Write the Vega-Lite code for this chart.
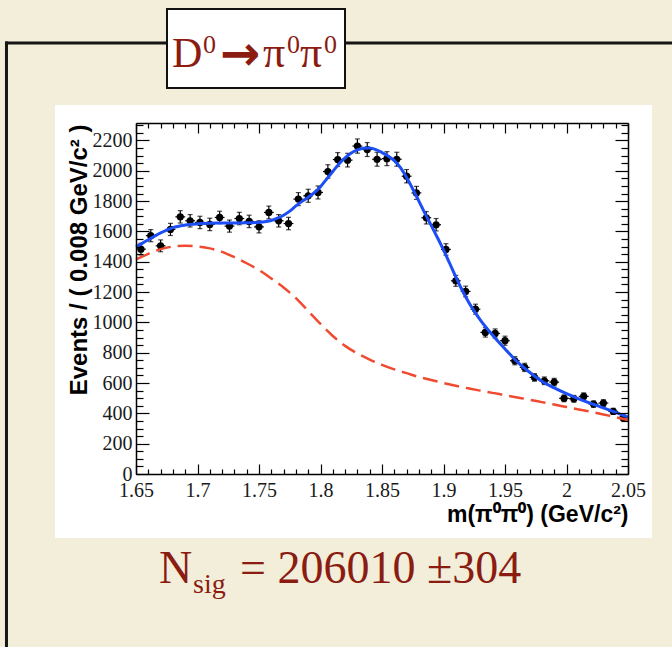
{
  "$schema": "https://vega.github.io/schema/vega-lite/v6.json",
  "width": 492,
  "height": 351,
  "autosize": {"type": "none"},
  "padding": {"left": 136, "top": 123, "right": 44, "bottom": 173},
  "background": "#f3eed9",
  "datasets": {
    "bins": [
      {"m":1.654,"v":1483,"e":39},{"m":1.662,"v":1572,"e":40},{"m":1.670,"v":1505,"e":39},{"m":1.678,"v":1613,"e":40},
      {"m":1.686,"v":1696,"e":41},{"m":1.694,"v":1670,"e":41},{"m":1.702,"v":1659,"e":41},{"m":1.710,"v":1646,"e":41},
      {"m":1.718,"v":1692,"e":41},{"m":1.726,"v":1635,"e":40},{"m":1.734,"v":1685,"e":41},{"m":1.742,"v":1666,"e":41},
      {"m":1.750,"v":1630,"e":40},{"m":1.758,"v":1725,"e":42},{"m":1.766,"v":1670,"e":41},{"m":1.774,"v":1652,"e":41},
      {"m":1.782,"v":1813,"e":43},{"m":1.790,"v":1835,"e":43},{"m":1.798,"v":1857,"e":43},{"m":1.806,"v":1995,"e":45},
      {"m":1.814,"v":2074,"e":46},{"m":1.822,"v":2070,"e":45},{"m":1.830,"v":2163,"e":47},{"m":1.838,"v":2140,"e":46},
      {"m":1.846,"v":2076,"e":46},{"m":1.854,"v":2080,"e":46},{"m":1.862,"v":2076,"e":46},{"m":1.870,"v":1964,"e":44},
      {"m":1.878,"v":1854,"e":43},{"m":1.886,"v":1690,"e":41},{"m":1.894,"v":1644,"e":41},{"m":1.902,"v":1481,"e":38},
      {"m":1.910,"v":1274,"e":36},{"m":1.918,"v":1204,"e":35},{"m":1.926,"v":1087,"e":33},{"m":1.934,"v":934,"e":31},
      {"m":1.942,"v":927,"e":30},{"m":1.950,"v":879,"e":30},{"m":1.958,"v":747,"e":27},{"m":1.966,"v":703,"e":27},
      {"m":1.974,"v":637,"e":25},{"m":1.982,"v":615,"e":25},{"m":1.990,"v":606,"e":25},{"m":1.998,"v":499,"e":22},
      {"m":2.006,"v":496,"e":22},{"m":2.014,"v":512,"e":23},{"m":2.022,"v":461,"e":21},{"m":2.030,"v":468,"e":22},
      {"m":2.038,"v":413,"e":20},{"m":2.046,"v":371,"e":19}
    ],
    "fit": [
      {"m":1.65,"v":1498},{"m":1.655,"v":1521},{"m":1.66,"v":1545},{"m":1.665,"v":1568},{"m":1.67,"v":1590},{"m":1.675,"v":1609},
      {"m":1.68,"v":1625},{"m":1.69,"v":1642},{"m":1.7,"v":1650},{"m":1.71,"v":1654},{"m":1.72,"v":1655},{"m":1.73,"v":1656},
      {"m":1.74,"v":1657},{"m":1.75,"v":1660},{"m":1.76,"v":1672},{"m":1.765,"v":1687},{"m":1.77,"v":1707},{"m":1.775,"v":1734},
      {"m":1.78,"v":1768},{"m":1.785,"v":1798},{"m":1.79,"v":1825},{"m":1.795,"v":1856},{"m":1.8,"v":1895},{"m":1.805,"v":1945},
      {"m":1.81,"v":1995},{"m":1.815,"v":2045},{"m":1.82,"v":2085},{"m":1.825,"v":2117},{"m":1.83,"v":2138},{"m":1.835,"v":2149},
      {"m":1.84,"v":2150},{"m":1.845,"v":2140},{"m":1.85,"v":2120},{"m":1.855,"v":2097},{"m":1.86,"v":2067},{"m":1.865,"v":2020},
      {"m":1.87,"v":1955},{"m":1.875,"v":1880},{"m":1.88,"v":1800},{"m":1.885,"v":1717},{"m":1.89,"v":1640},{"m":1.895,"v":1560},
      {"m":1.9,"v":1478},{"m":1.905,"v":1390},{"m":1.91,"v":1300},{"m":1.915,"v":1215},{"m":1.92,"v":1140},{"m":1.925,"v":1074},
      {"m":1.93,"v":1015},{"m":1.935,"v":963},{"m":1.94,"v":915},{"m":1.945,"v":869},{"m":1.95,"v":825},{"m":1.955,"v":782},
      {"m":1.96,"v":740},{"m":1.965,"v":704},{"m":1.97,"v":671},{"m":1.975,"v":640},{"m":1.98,"v":612},{"m":1.99,"v":568},
      {"m":2.0,"v":530},{"m":2.01,"v":496},{"m":2.02,"v":465},{"m":2.03,"v":436},{"m":2.04,"v":406},{"m":2.05,"v":375}
    ],
    "bkg": [
      {"m":1.65,"v":1415},{"m":1.66,"v":1452},{"m":1.67,"v":1483},{"m":1.68,"v":1500},{"m":1.69,"v":1505},{"m":1.7,"v":1500},
      {"m":1.71,"v":1488},{"m":1.72,"v":1465},{"m":1.73,"v":1430},{"m":1.74,"v":1390},{"m":1.75,"v":1345},{"m":1.76,"v":1290},
      {"m":1.77,"v":1230},{"m":1.78,"v":1160},{"m":1.79,"v":1075},{"m":1.8,"v":990},{"m":1.81,"v":910},{"m":1.82,"v":845},
      {"m":1.83,"v":795},{"m":1.84,"v":755},{"m":1.85,"v":720},{"m":1.86,"v":690},{"m":1.87,"v":665},{"m":1.88,"v":640},
      {"m":1.89,"v":620},{"m":1.9,"v":600},{"m":1.91,"v":582},{"m":1.92,"v":565},{"m":1.93,"v":550},{"m":1.94,"v":535},
      {"m":1.95,"v":520},{"m":1.96,"v":505},{"m":1.97,"v":490},{"m":1.98,"v":474},{"m":1.99,"v":458},{"m":2.0,"v":442},
      {"m":2.01,"v":426},{"m":2.02,"v":410},{"m":2.03,"v":393},{"m":2.04,"v":375},{"m":2.05,"v":356}
    ]
  },
  "layer": [
    {
      "data": {"values": [{}]},
      "mark": {"type": "rect", "color": "#ffffff"},
      "encoding": {
        "x": {"datum": 1.58415, "type": "quantitative", "scale": {"domain": [1.65, 2.05], "nice": false, "zero": false}, "axis": null},
        "x2": {"datum": 2.06951},
        "y": {"datum": 2433.7, "type": "quantitative", "scale": {"domain": [0, 2315], "nice": false, "zero": false}, "axis": null},
        "y2": {"datum": -422.1}
      }
    },
    {
      "data": {"values": [{}]},
      "mark": {"type": "rule", "color": "#161616", "strokeWidth": 3},
      "encoding": {
        "x": {"datum": 1.5435, "type": "quantitative", "scale": {"domain": [1.65, 2.05], "nice": false, "zero": false}, "axis": null},
        "x2": {"datum": 2.1},
        "y": {"datum": 2842.6, "type": "quantitative", "scale": {"domain": [0, 2315], "nice": false, "zero": false}, "axis": null}
      }
    },
    {
      "data": {"values": [{}]},
      "mark": {"type": "rule", "color": "#161616", "strokeWidth": 3},
      "encoding": {
        "x": {"datum": 1.5447, "type": "quantitative", "scale": {"domain": [1.65, 2.05], "nice": false, "zero": false}, "axis": null},
        "y": {"datum": 2852, "type": "quantitative", "scale": {"domain": [0, 2315], "nice": false, "zero": false}, "axis": null},
        "y2": {"datum": -1200}
      }
    },
    {
      "data": {"values": [{}]},
      "mark": {"type": "rect", "fill": "#ffffff", "stroke": "#111111", "strokeWidth": 2},
      "encoding": {
        "x": {"datum": 1.6752, "type": "quantitative", "scale": {"domain": [1.65, 2.05], "nice": false, "zero": false}, "axis": null},
        "x2": {"datum": 1.81992},
        "y": {"datum": 3066.9, "type": "quantitative", "scale": {"domain": [0, 2315], "nice": false, "zero": false}, "axis": null},
        "y2": {"datum": 2545.8}
      }
    },
    {
      "data": {"values": [{}]},
      "mark": {"type": "text", "text": "D", "font": "Liberation Serif", "fontSize": 42, "color": "#8a1c12", "align": "left", "baseline": "alphabetic"},
      "encoding": {
        "x": {"datum": 1.67927, "type": "quantitative", "scale": {"domain": [1.65, 2.05], "nice": false, "zero": false}, "axis": null},
        "y": {"datum": 2684, "type": "quantitative", "scale": {"domain": [0, 2315], "nice": false, "zero": false}, "axis": null}
      }
    },
    {
      "data": {"values": [{}]},
      "mark": {"type": "text", "text": "0", "font": "Liberation Serif", "fontSize": 26, "color": "#8a1c12", "align": "left", "baseline": "alphabetic"},
      "encoding": {
        "x": {"datum": 1.70447, "type": "quantitative", "scale": {"domain": [1.65, 2.05], "nice": false, "zero": false}, "axis": null},
        "y": {"datum": 2777, "type": "quantitative", "scale": {"domain": [0, 2315], "nice": false, "zero": false}, "axis": null}
      }
    },
    {
      "data": {"values": [{}]},
      "mark": {"type": "text", "text": "→", "font": "DejaVu Sans", "fontSize": 48, "fontWeight": "bold", "color": "#8a1c12", "align": "center", "baseline": "alphabetic"},
      "encoding": {
        "x": {"datum": 1.73455, "type": "quantitative", "scale": {"domain": [1.65, 2.05], "nice": false, "zero": false}, "axis": null},
        "y": {"datum": 2664, "type": "quantitative", "scale": {"domain": [0, 2315], "nice": false, "zero": false}, "axis": null}
      }
    },
    {
      "data": {"values": [{}]},
      "mark": {"type": "text", "text": "π", "font": "Liberation Serif", "fontSize": 44, "color": "#8a1c12", "align": "left", "baseline": "alphabetic"},
      "encoding": {
        "x": {"datum": 1.75325, "type": "quantitative", "scale": {"domain": [1.65, 2.05], "nice": false, "zero": false}, "axis": null},
        "y": {"datum": 2684, "type": "quantitative", "scale": {"domain": [0, 2315], "nice": false, "zero": false}, "axis": null}
      }
    },
    {
      "data": {"values": [{}]},
      "mark": {"type": "text", "text": "0", "font": "Liberation Serif", "fontSize": 26, "color": "#8a1c12", "align": "left", "baseline": "alphabetic"},
      "encoding": {
        "x": {"datum": 1.77276, "type": "quantitative", "scale": {"domain": [1.65, 2.05], "nice": false, "zero": false}, "axis": null},
        "y": {"datum": 2777, "type": "quantitative", "scale": {"domain": [0, 2315], "nice": false, "zero": false}, "axis": null}
      }
    },
    {
      "data": {"values": [{}]},
      "mark": {"type": "text", "text": "π", "font": "Liberation Serif", "fontSize": 44, "color": "#8a1c12", "align": "left", "baseline": "alphabetic"},
      "encoding": {
        "x": {"datum": 1.78333, "type": "quantitative", "scale": {"domain": [1.65, 2.05], "nice": false, "zero": false}, "axis": null},
        "y": {"datum": 2684, "type": "quantitative", "scale": {"domain": [0, 2315], "nice": false, "zero": false}, "axis": null}
      }
    },
    {
      "data": {"values": [{}]},
      "mark": {"type": "text", "text": "0", "font": "Liberation Serif", "fontSize": 26, "color": "#8a1c12", "align": "left", "baseline": "alphabetic"},
      "encoding": {
        "x": {"datum": 1.80285, "type": "quantitative", "scale": {"domain": [1.65, 2.05], "nice": false, "zero": false}, "axis": null},
        "y": {"datum": 2777, "type": "quantitative", "scale": {"domain": [0, 2315], "nice": false, "zero": false}, "axis": null}
      }
    },
    {
      "data": {"values": [{}]},
      "mark": {"type": "text", "text": "N", "font": "Liberation Serif", "fontSize": 46, "color": "#8a1c12", "align": "left", "baseline": "alphabetic"},
      "encoding": {
        "x": {"datum": 1.6687, "type": "quantitative", "scale": {"domain": [1.65, 2.05], "nice": false, "zero": false}, "axis": null},
        "y": {"datum": -719, "type": "quantitative", "scale": {"domain": [0, 2315], "nice": false, "zero": false}, "axis": null}
      }
    },
    {
      "data": {"values": [{}]},
      "mark": {"type": "text", "text": "sig", "font": "Liberation Serif", "fontSize": 28, "color": "#8a1c12", "align": "left", "baseline": "alphabetic"},
      "encoding": {
        "x": {"datum": 1.69634, "type": "quantitative", "scale": {"domain": [1.65, 2.05], "nice": false, "zero": false}, "axis": null},
        "y": {"datum": -785, "type": "quantitative", "scale": {"domain": [0, 2315], "nice": false, "zero": false}, "axis": null}
      }
    },
    {
      "data": {"values": [{}]},
      "mark": {"type": "text", "text": "= 206010 ±304", "font": "Liberation Serif", "fontSize": 46, "color": "#8a1c12", "align": "left", "baseline": "alphabetic"},
      "encoding": {
        "x": {"datum": 1.73455, "type": "quantitative", "scale": {"domain": [1.65, 2.05], "nice": false, "zero": false}, "axis": null},
        "y": {"datum": -719, "type": "quantitative", "scale": {"domain": [0, 2315], "nice": false, "zero": false}, "axis": null}
      }
    },
    {
      "data": {"name": "bins"},
      "mark": {"type": "errorbar", "ticks": {"size": 5}, "thickness": 1.2, "color": "#000000"},
      "encoding": {
        "x": {"field": "m", "type": "quantitative", "scale": {"domain": [1.65, 2.05], "nice": false, "zero": false}, "axis": null},
        "y": {"field": "v", "type": "quantitative", "scale": {"domain": [0, 2315], "nice": false, "zero": false}, "axis": null},
        "yError": {"field": "e"}
      }
    },
    {
      "data": {"name": "bins"},
      "mark": {"type": "tick", "orient": "horizontal", "size": 9.8, "thickness": 1.2, "color": "#000000", "opacity": 1},
      "encoding": {
        "x": {"field": "m", "type": "quantitative", "scale": {"domain": [1.65, 2.05], "nice": false, "zero": false},
          "axis": {"orient": "bottom", "zindex": 1, "values": [1.66,1.67,1.68,1.69,1.71,1.72,1.73,1.74,1.76,1.77,1.78,1.79,1.81,1.82,1.83,1.84,1.86,1.87,1.88,1.89,1.91,1.92,1.93,1.94,1.96,1.97,1.98,1.99,2.01,2.02,2.03,2.04],
            "domain": false, "grid": false, "labels": false, "tickSize": -5, "tickWidth": 1.2, "tickColor": "#000000", "title": null}},
        "y": {"field": "v", "type": "quantitative", "scale": {"domain": [0, 2315], "nice": false, "zero": false},
          "axis": {"orient": "left", "zindex": 1, "values": [50,100,150,250,300,350,450,500,550,650,700,750,850,900,950,1050,1100,1150,1250,1300,1350,1450,1500,1550,1650,1700,1750,1850,1900,1950,2050,2100,2150,2250,2300],
            "domain": false, "grid": false, "labels": false, "tickSize": -7, "tickWidth": 1.2, "tickColor": "#000000", "title": null}}
      }
    },
    {
      "data": {"name": "bins"},
      "mark": {"type": "circle", "size": 52, "color": "#000000", "opacity": 1},
      "encoding": {
        "x": {"field": "m", "type": "quantitative", "scale": {"domain": [1.65, 2.05], "nice": false, "zero": false},
          "axis": {"orient": "bottom", "zindex": 1, "values": [1.65,1.7,1.75,1.8,1.85,1.9,1.95,2,2.05], "format": "~g",
            "domain": true, "domainColor": "#000000", "domainWidth": 1.5, "grid": false,
            "tickSize": -10, "tickWidth": 1.2, "tickColor": "#000000", "labelFont": "Liberation Serif", "labelFontSize": 20, "labelColor": "#1a1a1a",
            "labelPadding": 16, "labelFlush": false, "labelOverlap": false,
            "title": "m(π⁰π⁰) (GeV/c²)", "titleFont": "Liberation Sans", "titleFontWeight": "bold", "titleFontSize": 23, "titleColor": "#000000",
            "titleAnchor": "end", "titleAlign": "right", "titleBaseline": "alphabetic", "titleX": 492, "titleY": 47}},
        "y": {"field": "v", "type": "quantitative", "scale": {"domain": [0, 2315], "nice": false, "zero": false},
          "axis": {"orient": "left", "zindex": 1, "values": [0,200,400,600,800,1000,1200,1400,1600,1800,2000,2200], "format": "d",
            "domain": true, "domainColor": "#000000", "domainWidth": 1.5, "grid": false,
            "tickSize": -13, "tickWidth": 1.2, "tickColor": "#000000", "labelFont": "Liberation Serif", "labelFontSize": 20, "labelColor": "#1a1a1a",
            "labelPadding": 17, "labelOverlap": false, "labelFlush": false,
            "title": "Events / ( 0.008 GeV/c² )", "titleFont": "Liberation Sans", "titleFontWeight": "bold", "titleFontSize": 24, "titleColor": "#000000",
            "titleAngle": 270, "titleAlign": "right", "titleBaseline": "alphabetic", "titleX": -50, "titleY": 1}}
      }
    },
    {
      "data": {"name": "bkg"},
      "mark": {"type": "line", "color": "#f04a30", "strokeWidth": 2.5, "strokeDash": [15, 7], "interpolate": "monotone"},
      "encoding": {
        "x": {"field": "m", "type": "quantitative", "scale": {"domain": [1.65, 2.05], "nice": false, "zero": false},
          "axis": {"orient": "top", "zindex": 1, "values": [1.66,1.67,1.68,1.69,1.71,1.72,1.73,1.74,1.76,1.77,1.78,1.79,1.81,1.82,1.83,1.84,1.86,1.87,1.88,1.89,1.91,1.92,1.93,1.94,1.96,1.97,1.98,1.99,2.01,2.02,2.03,2.04],
            "domain": false, "grid": false, "labels": false, "tickSize": -5, "tickWidth": 1.2, "tickColor": "#000000", "title": null}},
        "y": {"field": "v", "type": "quantitative", "scale": {"domain": [0, 2315], "nice": false, "zero": false},
          "axis": {"orient": "right", "zindex": 1, "values": [50,100,150,250,300,350,450,500,550,650,700,750,850,900,950,1050,1100,1150,1250,1300,1350,1450,1500,1550,1650,1700,1750,1850,1900,1950,2050,2100,2150,2250,2300],
            "domain": false, "grid": false, "labels": false, "tickSize": -7, "tickWidth": 1.2, "tickColor": "#000000", "title": null}}
      }
    },
    {
      "data": {"name": "fit"},
      "mark": {"type": "line", "color": "#1d4ef5", "strokeWidth": 3, "interpolate": "monotone"},
      "encoding": {
        "x": {"field": "m", "type": "quantitative", "scale": {"domain": [1.65, 2.05], "nice": false, "zero": false},
          "axis": {"orient": "top", "zindex": 1, "values": [1.65,1.7,1.75,1.8,1.85,1.9,1.95,2,2.05], "domain": true, "domainColor": "#000000", "domainWidth": 1.5,
            "grid": false, "labels": false, "tickSize": -10, "tickWidth": 1.2, "tickColor": "#000000", "title": null}},
        "y": {"field": "v", "type": "quantitative", "scale": {"domain": [0, 2315], "nice": false, "zero": false},
          "axis": {"orient": "right", "zindex": 1, "values": [0,200,400,600,800,1000,1200,1400,1600,1800,2000,2200], "domain": true, "domainColor": "#000000", "domainWidth": 1.5,
            "grid": false, "labels": false, "tickSize": -13, "tickWidth": 1.2, "tickColor": "#000000", "title": null}}
      }
    }
  ],
  "resolve": {"axis": {"x": "independent", "y": "independent"}},
  "config": {"view": {"stroke": null}}
}
